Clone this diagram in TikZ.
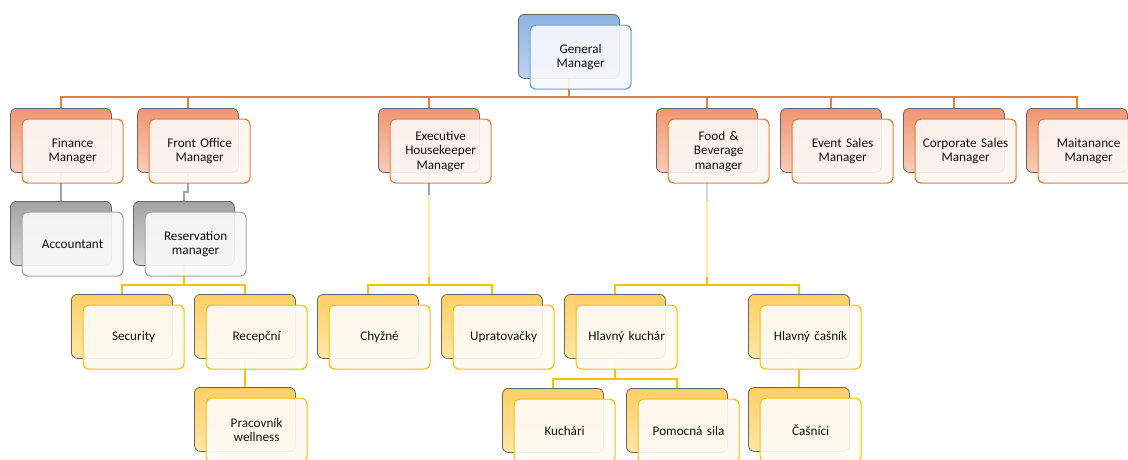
\documentclass[tikz,border=0pt]{standalone}
\usepackage{fontspec}
\setmainfont{Carlito}
\usetikzlibrary{calc,backgrounds}
\definecolor{txt}{HTML}{101010}
\definecolor{backline}{HTML}{666666}
\definecolor{bluetop}{HTML}{8DB3E2}
\definecolor{bluebot}{HTML}{BED3EE}
\definecolor{blueline}{HTML}{6A9FD8}
\definecolor{bluefill}{HTML}{F5F8FC}
\definecolor{ortop}{HTML}{EF9672}
\definecolor{orbot}{HTML}{F8CDB9}
\definecolor{orline}{HTML}{ED7D31}
\definecolor{orfill}{HTML}{FDF6F3}
\definecolor{grtop}{HTML}{A3A3A3}
\definecolor{grbot}{HTML}{D6D6D6}
\definecolor{grline}{HTML}{A5A5A5}
\definecolor{grfill}{HTML}{F8F8F8}
\definecolor{yetop}{HTML}{FFCF66}
\definecolor{yebot}{HTML}{FFE6A8}
\definecolor{yeline}{HTML}{FFC000}
\definecolor{yefill}{HTML}{FEFBF4}
\definecolor{yepale}{HTML}{FFE8A0}
\tikzset{
  box/.style={rectangle, rounded corners=6pt, minimum width=101pt, minimum height=64pt, inner sep=0pt, anchor=north west},
  backbox/.style={box, draw=backline, line width=0.8pt},
  frontbox/.style={box, line width=1.2pt, fill opacity=0.93, text opacity=1, align=center, text width=96pt, text=txt, font=\fontsize{13.2}{14.5}\selectfont},
  backblue/.style={backbox, top color=bluetop, bottom color=bluebot},
  frontblue/.style={frontbox, draw=blueline, fill=bluefill},
  backor/.style={backbox, top color=ortop, bottom color=orbot},
  frontor/.style={frontbox, draw=orline, fill=orfill},
  backgr/.style={backbox, top color=grtop, bottom color=grbot},
  frontgr/.style={frontbox, draw=grline, fill=grfill},
  backye/.style={backbox, top color=yetop, bottom color=yebot},
  frontye/.style={frontbox, draw=yeline, fill=yefill},
  connor/.style={draw=orline, line width=2.4pt},
  conngr/.style={draw=grline, line width=2.4pt},
  connye/.style={draw=yeline, line width=2.4pt},
  connpale/.style={draw=yepale, line width=2pt},
}
\newcommand\orgunit[5]{%
  \node[back#4] (#1B) at (#2,#3) {};
  \node[front#4] (#1F) at ({#2+11.5},{#3+10.5}) {#5};
}
\begin{document}
\begin{tikzpicture}[x=1pt,y=-1pt]
\useasboundingbox (0,0) rectangle (1128,459);
\orgunit{gm}{518}{14}{blue}{General\\Manager}
\orgunit{fin}{10}{108}{or}{Finance\\Manager}
\orgunit{fo}{137}{108}{or}{Front Office\\Manager}
\orgunit{ex}{378}{108}{or}{Executive\\Housekeeper\\Manager}
\orgunit{fb}{656}{108}{or}{Food \&\\Beverage\\manager}
\orgunit{ev}{780}{108}{or}{Event Sales\\Manager}
\orgunit{cs}{903}{108}{or}{Corporate Sales\\Manager}
\orgunit{mt}{1026}{108}{or}{Maitanance\\Manager}
\orgunit{acc}{10}{201}{gr}{Accountant}
\orgunit{res}{133}{201}{gr}{Reservation\\manager}
\orgunit{sec}{71}{294}{ye}{Security}
\orgunit{rec}{194}{294}{ye}{Recepční}
\orgunit{wel}{194}{387}{ye}{Pracovník\\wellness}
\orgunit{chy}{317}{294}{ye}{Chyžné}
\orgunit{upr}{441}{294}{ye}{Upratovačky}
\orgunit{hk}{564}{294}{ye}{Hlavný kuchár}
\orgunit{hc}{748}{294}{ye}{Hlavný čašník}
\orgunit{kuc}{502}{388}{ye}{Kuchári}
\orgunit{pom}{626}{388}{ye}{Pomocná sila}
\orgunit{cas}{748}{387}{ye}{Čašníci}
\begin{scope}[on background layer]
  \coordinate (bus1) at (0,97);
  \coordinate (bus2) at (0,285);
  \coordinate (bus3) at (0,379);
  \foreach \c in {fin,fo,ex,fb,ev,cs,mt}
    \draw[connor] (gmB.south) -- (gmB.south |- bus1) -| (\c B.north);
  \draw[conngr] (finB.south) -- (accB.north);
  \draw[conngr] (foB.south) -- ++(0,19) -| (resB.north);
  \draw[connye] (resB.south) -- (resB.south |- bus2) -| (secB.north);
  \draw[connye] (resB.south |- bus2) -| (recB.north);
  \draw[connye] (recB.south) -- (welB.north);
  % Executive Housekeeper branch
  \draw[conngr] (exB.south) -- ++(0,22) coordinate (ex1);
  \draw[connpale] (ex1) -- ($(exB.south |- bus2)+(0,-8)$) coordinate (ex2);
  \draw[connye] (ex2) -- (exB.south |- bus2) -| (chyB.north);
  \draw[connye] (exB.south |- bus2) -| (uprB.north);
  % Food & Beverage branch
  \draw[conngr, draw=grbot] (fbB.south) -- ++(0,28) coordinate (fb1);
  \draw[connpale] (fb1) -- ($(fbB.south |- bus2)+(0,-8)$) coordinate (fb2);
  \draw[connye] (fb2) -- (fbB.south |- bus2) -| (hkB.north);
  \draw[connye] (fbB.south |- bus2) -| (hcB.north);
  \draw[connye] (hkB.south) -- (hkB.south |- bus3) -| (kucB.north);
  \draw[connye] (hkB.south |- bus3) -| (pomB.north);
  \draw[connye] (hcB.south) -- (casB.north);
\end{scope}
\end{tikzpicture}
\end{document}
